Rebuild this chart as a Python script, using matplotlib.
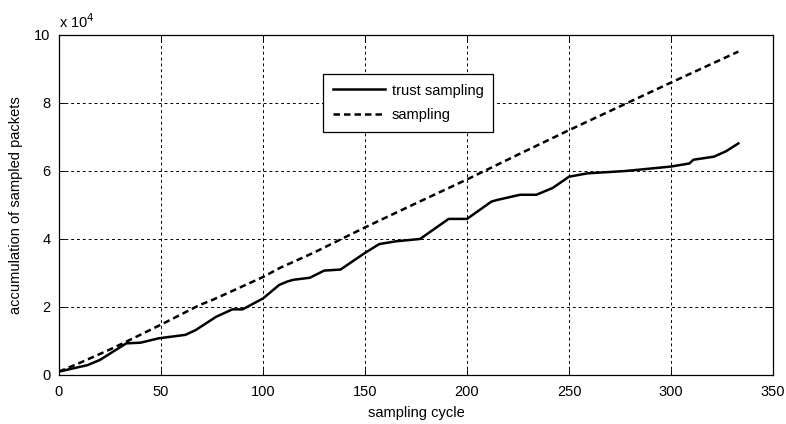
import matplotlib
matplotlib.use("Agg")
import matplotlib.pyplot as plt
from matplotlib.ticker import FuncFormatter

plt.rcParams['font.family'] = ['Liberation Sans', 'DejaVu Sans']

# accumulated packets per sampling cycle
trust_cycle = [0, 14, 20, 33, 40, 49, 62, 67, 77, 85, 90, 100, 108, 112, 115, 123,
               130, 138, 150, 157, 165, 177, 191, 200, 212, 215, 226, 234, 242,
               250, 259, 278, 300, 309, 311, 321, 327, 333]
trust_packets = [1000, 2900, 4400, 9300, 9500, 10800, 11800, 13200, 17100, 19300,
                 19300, 22500, 26500, 27500, 28000, 28600, 30700, 31000, 35900,
                 38500, 39300, 40000, 45900, 45900, 51000, 51500, 53000, 53000,
                 55000, 58300, 59300, 60000, 61300, 62200, 63300, 64200, 65800,
                 68100]

plain_cycle = [0, 10, 25, 33, 50, 69, 75, 100, 108, 125, 150, 175, 200, 225, 250,
               275, 300, 333]
plain_packets = [1000, 3500, 7500, 9800, 14800, 20600, 22000, 28800, 31400, 36000,
                 43400, 50500, 57500, 64800, 72000, 79000, 86000, 95100]

fig = plt.figure(figsize=(7.86, 4.24), dpi=100)
ax = fig.add_axes([0.075, 0.1156, 0.9085, 0.802])

ax.plot(trust_cycle, trust_packets, color='black', lw=1.8, ls='-',
        label='trust sampling')
ax.plot(plain_cycle, plain_packets, color='black', lw=1.8, ls=(0, (2.6, 1.6)),
        label='sampling')

ax.set_xlim(0, 350)
ax.set_ylim(0, 100000)
ax.set_xticks(range(0, 351, 50))
ax.set_yticks(range(0, 100001, 20000))
ax.yaxis.set_major_formatter(FuncFormatter(lambda v, p: '%g' % (v / 1e4)))

ax.grid(True, color='black', lw=0.7, ls=(0, (3, 3)))
ax.set_axisbelow(True)
ax.tick_params(direction='in', length=4, width=0.7, top=True, right=True,
               labelsize=10.5)
ax.tick_params(axis='x', pad=7)
ax.tick_params(axis='y', pad=6)
for s in ax.spines.values():
    s.set_linewidth(0.9)

ax.text(0.0, 1.012, r'x 10$^4$', transform=ax.transAxes, fontsize=10.5,
        ha='left', va='bottom')

ax.set_xlabel('sampling cycle', fontsize=10.5, labelpad=5)
ax.set_ylabel('accumulation of sampled packets', fontsize=10.5, labelpad=8)

leg = ax.legend(loc='upper left', bbox_to_anchor=(0.37, 0.885), fontsize=10.5,
                frameon=True, fancybox=False, edgecolor='black',
                handlelength=3.6, handletextpad=0.45, borderpad=0.65,
                labelspacing=0.75, borderaxespad=0)
leg.get_frame().set_linewidth(0.9)
leg.get_frame().set_alpha(1)

fig.savefig('out.png', dpi=100)
